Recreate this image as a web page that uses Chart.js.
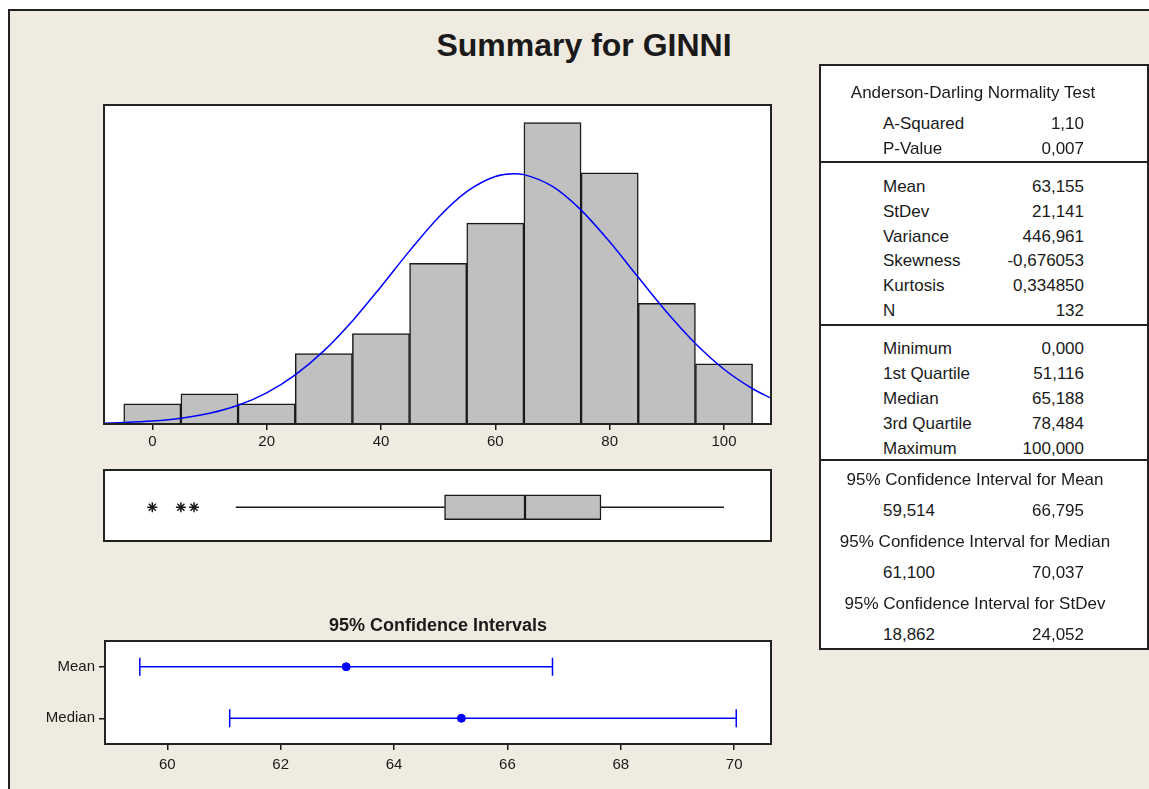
<!DOCTYPE html>
<html>
<head>
<meta charset="utf-8">
<title>Summary for GINNI</title>
<script src="https://cdn.jsdelivr.net/npm/chart.js@4.4.1/dist/chart.umd.min.js"></script>
<style>
  html, body { margin: 0; padding: 0; overflow: hidden; background: #fff; }
  body { width: 1149px; height: 789px; position: relative; font-family: 'Liberation Sans', Arial, sans-serif; color: #1a1a1a; }
  .abs { position: absolute; }
  #frame { left: 8px; top: 9px; width: 1200px; height: 820px; background: #efebe0; border: 2px solid #222; }
  #title { left: 384px; top: 25px; width: 400px; line-height: 40px; text-align: center; font-size: 32px; font-weight: bold; }
  #ciTitle { left: 288px; top: 614px; width: 300px; line-height: 22px; text-align: center; font-size: 18px; font-weight: bold; }
  #panel { left: 819px; top: 64px; width: 330px; height: 586px; box-sizing: border-box; background: #fff; border: 2px solid #222; }
  .rule { left: 819px; width: 330px; height: 2px; background: #222; }
  .txt { position: absolute; font-size: 17px; line-height: 20px; white-space: nowrap; }
</style>
</head>
<body>
<div id="frame" class="abs"></div>
<div id="title" class="abs">Summary for GINNI</div>
<canvas id="hist" class="abs" width="687" height="354" style="left:94px; top:100px;"></canvas>
<canvas id="box" class="abs" width="687" height="91" style="left:94px; top:460px;"></canvas>
<canvas id="ci" class="abs" width="746" height="151" style="left:35px; top:628px;"></canvas>
<div id="ciTitle" class="abs">95% Confidence Intervals</div>
<div id="panel" class="abs"></div>
<div id="texts"></div>

<script>
// histogram: bin centres (width 10) and counts
const binCentres = [0, 10, 20, 30, 40, 50, 60, 70, 80, 90, 100];
const binCounts = [2, 3, 2, 7, 9, 16, 20, 30, 25, 12, 6];
const histTicks = [0, 20, 40, 60, 80, 100];

// fitted normal curve (count scale)
const curveX = [-8.4, -5, 0, 5, 10, 15, 20, 25, 30, 35, 40, 45, 50, 55, 60, 63.2, 65, 70, 75, 80, 85, 90, 95, 100, 105, 108.2];
const curveY = [0.08, 0.14, 0.29, 0.57, 1.06, 1.86, 3.10, 4.89, 7.28, 10.26, 13.67, 17.23, 20.53, 23.12, 24.63, 24.91, 24.82, 23.64, 21.29, 18.13, 14.60, 11.12, 8.01, 5.45, 3.51, 2.57];

// box plot: Q1, median, Q3, whisker ends, outliers
const boxQuartiles = [51.116, 65.188, 78.484];
const boxWhiskers = [14.6, 100];
const boxOutliers = [0, 5, 7.3];

// confidence intervals
const ciRows = ['Mean', 'Median'];
const ciLow = [59.514, 61.100];
const ciHigh = [66.795, 70.037];
const ciEst = [63.155, 65.188];
const ciTicks = [60, 62, 64, 66, 68, 70];

// stats panel
const testRows = [['A-Squared', '1,10'], ['P-Value', '0,007']];
const momentRows = [['Mean', '63,155'], ['StDev', '21,141'], ['Variance', '446,961'], ['Skewness', '-0,676053'], ['Kurtosis', '0,334850'], ['N', '132']];
const quantileRows = [['Minimum', '0,000'], ['1st Quartile', '51,116'], ['Median', '65,188'], ['3rd Quartile', '78,484'], ['Maximum', '100,000']];
const intervalRows = [
    ['95% Confidence Interval for Mean', '59,514', '66,795'],
    ['95% Confidence Interval for Median', '61,100', '70,037'],
    ['95% Confidence Interval for StDev', '18,862', '24,052']
];

Chart.defaults.font.family = "'Liberation Sans', Arial, sans-serif";
Chart.defaults.font.size = 15;
Chart.defaults.color = '#1a1a1a';
Chart.defaults.animation = false;
Chart.defaults.events = [];
Chart.defaults.layout.autoPadding = false;
Chart.defaults.plugins.legend.display = false;
Chart.defaults.plugins.tooltip.enabled = false;

const ink = '#1a1a1a';
const blue = '#0000ff';

// white plot area with a dark box round it
const plotFrame = {
    id: 'plotFrame',
    beforeDraw(chart) {
        const { ctx, chartArea: a } = chart;
        ctx.save();
        ctx.fillStyle = '#fff';
        ctx.fillRect(a.left, a.top, a.width, a.height);
        ctx.restore();
    },
    afterDraw(chart) {
        const { ctx, chartArea: a } = chart;
        ctx.save();
        ctx.strokeStyle = '#222';
        ctx.lineWidth = 2;
        ctx.strokeRect(a.left, a.top, a.width, a.height);
        ctx.restore();
    }
};

const tickGrid = { drawOnChartArea: false, offset: false, tickLength: 6, color: ink, lineWidth: 1.5 };

// Histogram with normal fit
new Chart(document.getElementById('hist'), {
    type: 'bar',
    data: {
        datasets: [{
            type: 'line',
            data: curveX.map((x, i) => ({ x: x, y: curveY[i] })),
            borderColor: blue,
            borderWidth: 1.5,
            pointRadius: 0,
            cubicInterpolationMode: 'monotone',
            order: 0
        }, {
            type: 'bar',
            data: binCentres.map((c, i) => ({ x: c, y: binCounts[i] })),
            backgroundColor: '#c0c0c0',
            borderColor: ink,
            borderWidth: 1.5,
            barPercentage: 1,
            categoryPercentage: 1,
            order: 1
        }]
    },
    options: {
        responsive: false,
        layout: { padding: { left: 10, right: 10, top: 5, bottom: 0 } },
        scales: {
            x: {
                type: 'linear', min: -8.45, max: 108.22, offset: false,
                afterBuildTicks: s => { s.ticks = histTicks.map(v => ({ value: v })); },
                afterFit: s => { s.height = 30; },
                grid: tickGrid,
                border: { display: false },
                ticks: { padding: 3 }
            },
            y: { display: false, min: 0, max: 31.75 }
        }
    },
    plugins: [plotFrame]
});

// Box plot
new Chart(document.getElementById('box'), {
    type: 'bar',
    data: {
        datasets: [{
            type: 'scatter',
            data: boxOutliers.map(v => ({ x: v, y: 0 })),
            pointStyle: 'star',
            pointRadius: 5,
            borderColor: ink,
            borderWidth: 1.5,
            order: 0
        }, {
            type: 'line',
            data: [{ x: boxWhiskers[0], y: 0 }, { x: boxQuartiles[0], y: 0 }],
            borderColor: ink, borderWidth: 1.5, pointRadius: 0, order: 2
        }, {
            type: 'line',
            data: [{ x: boxQuartiles[2], y: 0 }, { x: boxWhiskers[1], y: 0 }],
            borderColor: ink, borderWidth: 1.5, pointRadius: 0, order: 2
        }, {
            type: 'bar', indexAxis: 'y', grouped: false,
            data: [{ x: [boxQuartiles[0], boxQuartiles[1]], y: 0 }],
            barThickness: 25, backgroundColor: '#c0c0c0', borderColor: ink,
            borderWidth: 1.5, borderSkipped: false, order: 1
        }, {
            type: 'bar', indexAxis: 'y', grouped: false,
            data: [{ x: [boxQuartiles[1], boxQuartiles[2]], y: 0 }],
            barThickness: 25, backgroundColor: '#c0c0c0', borderColor: ink,
            borderWidth: 1.5, borderSkipped: false, order: 1
        }]
    },
    options: {
        responsive: false,
        layout: { padding: 10 },
        scales: {
            x: { type: 'linear', display: false, offset: false, min: -8.45, max: 108.22 },
            y: { type: 'linear', display: false, offset: false, min: -0.95, max: 1.05 }
        }
    },
    plugins: [plotFrame]
});

// Confidence intervals
new Chart(document.getElementById('ci'), {
    type: 'scatter',
    data: {
        datasets: [{
            data: ciRows.map((r, i) => ({ x: ciEst[i], y: r })),
            pointStyle: 'circle', pointRadius: 4,
            backgroundColor: blue, borderColor: blue, order: 0
        }].concat(ciRows.map((r, i) => ({
            type: 'line',
            data: [{ x: ciLow[i], y: r }, { x: ciHigh[i], y: r }],
            borderColor: blue, borderWidth: 1.5,
            pointStyle: 'line', pointRotation: 90, pointRadius: 9,
            pointBorderColor: blue, pointBorderWidth: 1.5, order: 1
        })))
    },
    options: {
        responsive: false,
        layout: { padding: { top: 5, right: 10, left: 0, bottom: 0 } },
        scales: {
            x: {
                type: 'linear', min: 58.9, max: 70.65,
                afterBuildTicks: s => { s.ticks = ciTicks.map(v => ({ value: v })); },
                afterFit: s => { s.height = 35; },
                grid: tickGrid,
                border: { display: false },
                ticks: { padding: 6 }
            },
            y: {
                type: 'category', labels: ciRows, offset: true,
                afterFit: s => { s.width = 70; },
                grid: tickGrid,
                border: { display: false },
                ticks: { padding: 4 }
            }
        }
    },
    plugins: [plotFrame]
});

// Stats panel text
const texts = document.getElementById('texts');
function addText(str, x, y, align) {
    const d = document.createElement('div');
    d.className = 'txt';
    d.textContent = str;
    d.style.top = (y - 10) + 'px';
    if (align === 'right') {
        d.style.left = (x - 250) + 'px'; d.style.width = '250px'; d.style.textAlign = 'right';
    } else if (align === 'center') {
        d.style.left = (x - 200) + 'px'; d.style.width = '400px'; d.style.textAlign = 'center';
    } else {
        d.style.left = x + 'px';
    }
    texts.appendChild(d);
}
function addRule(y) {
    const d = document.createElement('div');
    d.className = 'abs rule';
    d.style.top = (y - 1) + 'px';
    texts.appendChild(d);
}
function addRows(rows, y0, step) {
    rows.forEach((r, i) => {
        addText(r[0], 883, y0 + step * i, 'left');
        addText(r[1], 1084, y0 + step * i, 'right');
    });
}

addText('Anderson-Darling Normality Test', 973, 93, 'center');
addRows(testRows, 124, 25);
addRule(162);
addRows(momentRows, 187, 24.8);
addRule(325);
addRows(quantileRows, 349, 24.9);
addRule(460);
intervalRows.forEach((r, i) => {
    addText(r[0], 975, 480 + 62 * i, 'center');
    addText(r[1], 883, 511 + 62 * i, 'left');
    addText(r[2], 1084, 511 + 62 * i, 'right');
});
</script>
</body>
</html>
